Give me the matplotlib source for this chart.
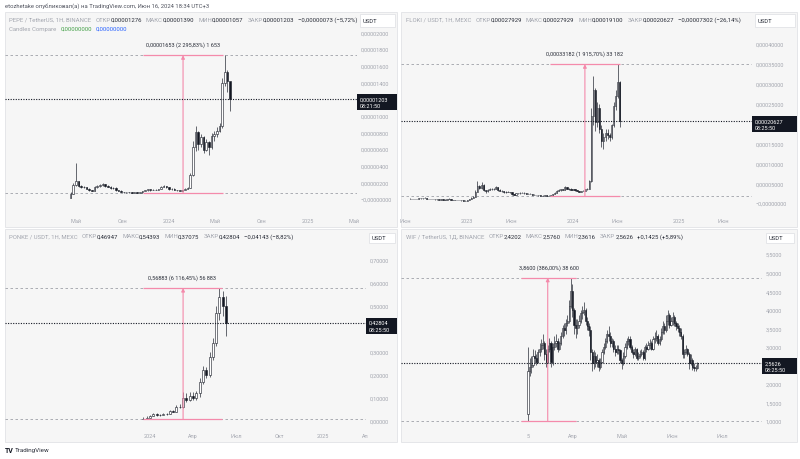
import matplotlib
matplotlib.use('Agg')
import matplotlib.pyplot as plt
import matplotlib.dates as mdates
from matplotlib.patches import Rectangle
import numpy as np
import pandas as pd

plt.rcParams['font.family'] = ['Roboto', 'DejaVu Sans']

W, H = 800, 460

# ---------------- DATA ----------------
# PEPE weekly, values in millionths of USDT
pepe_start = '2023-04-17'
pepe_open0 = 0.10
pepe_close = [0.60, 1.70, 2.10, 1.55, 1.45, 1.40, 1.25, 1.08, 1.00, 1.40, 1.50, 1.65, 1.80, 1.55, 1.45, 1.30,
              1.35, 1.05, 1.00, 0.85, 0.82, 0.78, 0.79, 0.76, 0.78, 0.75, 0.80, 0.95, 1.05, 1.15, 1.05, 1.12,
              1.10, 1.20, 1.45, 1.55, 1.38, 1.20, 1.25, 1.10, 1.02, 1.00, 1.05, 1.25, 1.35, 2.90, 6.20, 8.00,
              6.60, 7.40, 5.90, 6.80, 6.20, 7.60, 7.80, 8.20, 8.70, 13.90, 15.20, 14.10, 12.03]
pepe_high = [0.80, 1.90, 4.30, 2.20, 1.65, 1.55, 1.45, 1.30, 1.12, 1.50, 1.62, 1.75, 1.95, 1.85, 1.62, 1.50,
             1.42, 1.38, 1.10, 1.02, 0.88, 0.85, 0.83, 0.82, 0.82, 0.80, 0.84, 0.99, 1.10, 1.25, 1.20, 1.18,
             1.16, 1.25, 1.55, 1.72, 1.60, 1.42, 1.35, 1.28, 1.12, 1.05, 1.08, 1.30, 1.42, 3.10, 7.00, 8.80,
             8.10, 7.80, 7.50, 7.20, 6.90, 7.90, 8.20, 8.60, 9.10, 14.50, 17.25, 15.50, 13.90]
pepe_low = [0.08, 0.55, 1.60, 1.40, 1.35, 1.30, 1.15, 0.95, 0.90, 0.98, 1.35, 1.45, 1.60, 1.45, 1.38, 1.25,
            1.22, 1.00, 0.92, 0.80, 0.76, 0.73, 0.74, 0.72, 0.73, 0.72, 0.73, 0.74, 0.92, 1.00, 1.00, 1.02,
            1.05, 1.08, 1.18, 1.40, 1.30, 1.12, 1.12, 1.05, 0.95, 0.93, 0.95, 1.02, 1.20, 1.30, 2.80, 5.80,
            5.90, 6.20, 5.50, 5.70, 5.30, 6.00, 7.00, 7.40, 8.00, 8.50, 13.50, 12.80, 10.57]

# FLOKI weekly, values in 1e-5 USDT
floki_start = '2022-06-20'
floki_open0 = 1.00
floki_close = [1.05, 0.98, 1.02, 1.00, 1.15, 1.25, 1.18, 1.30, 1.08, 1.02, 0.95, 1.00, 0.92, 0.90, 0.88, 0.90,
               0.85, 0.86, 1.05, 1.10, 0.75, 0.72, 0.70, 0.72, 0.70, 0.65, 0.62, 0.60,
               0.75, 1.05, 1.35, 1.60, 2.80, 4.20, 3.80, 4.60, 3.20, 2.90, 3.30, 3.40, 3.60, 3.50, 3.90, 3.20,
               3.10, 2.90, 2.70, 2.80, 2.75, 2.65, 2.20, 2.05, 2.45, 2.40, 2.60, 2.55, 2.40, 2.35, 2.25, 2.30,
               2.05, 2.00, 1.95, 1.90, 1.88, 1.85, 1.90, 1.85, 1.78, 1.90, 2.25, 2.50, 3.00, 3.20, 3.40, 3.30,
               3.90, 3.50, 3.60, 3.30,
               3.40, 3.20, 2.95, 2.85, 2.95, 3.10, 3.40, 3.60, 5.50, 22.00, 28.50, 20.50, 24.00, 18.50, 15.50,
               16.50, 17.50, 17.00, 16.50, 19.50, 24.50, 27.00, 30.50, 20.627]
floki_high = [1.15, 1.10, 1.10, 1.08, 1.22, 1.35, 1.32, 1.40, 1.35, 1.12, 1.05, 1.05, 1.02, 0.98, 0.95, 0.96,
              0.93, 0.92, 1.12, 1.20, 1.12, 0.80, 0.76, 0.78, 0.76, 0.72, 0.68, 0.66,
              0.78, 1.10, 1.45, 1.75, 3.20, 5.50, 4.60, 5.20, 4.70, 3.30, 3.50, 3.70, 3.80, 3.80, 4.20, 4.00,
              3.40, 3.20, 2.95, 3.00, 2.95, 2.85, 2.70, 2.25, 2.55, 2.60, 2.75, 2.70, 2.65, 2.50, 2.45, 2.45,
              2.35, 2.15, 2.08, 2.02, 1.98, 1.95, 1.98, 1.98, 1.92, 1.95, 2.35, 2.65, 3.15, 3.45, 3.60, 3.55,
              4.20, 4.10, 3.85, 3.70,
              3.55, 3.50, 3.25, 3.05, 3.05, 3.25, 3.55, 3.80, 5.80, 24.00, 32.00, 29.00, 25.50, 25.00, 19.50,
              17.50, 18.50, 18.50, 17.50, 20.00, 25.50, 28.50, 34.91, 30.80]
floki_low = [0.95, 0.92, 0.95, 0.95, 0.98, 1.12, 1.12, 1.15, 1.05, 0.98, 0.92, 0.92, 0.88, 0.86, 0.85, 0.86,
             0.82, 0.83, 0.85, 1.02, 0.68, 0.68, 0.66, 0.68, 0.66, 0.62, 0.58, 0.57,
             0.58, 0.73, 1.00, 1.30, 1.55, 2.70, 3.40, 3.60, 3.10, 2.60, 2.80, 3.20, 3.30, 3.35, 3.40, 3.10,
             2.95, 2.80, 2.60, 2.60, 2.65, 2.55, 2.10, 1.95, 2.00, 2.30, 2.35, 2.45, 2.35, 2.30, 2.20, 2.20,
             2.00, 1.95, 1.90, 1.85, 1.82, 1.80, 1.80, 1.78, 1.74, 1.73, 1.85, 2.20, 2.45, 2.95, 3.10, 3.15,
             3.25, 3.40, 3.35, 3.20,
             3.20, 3.10, 2.90, 2.75, 2.80, 2.90, 3.05, 3.35, 3.50, 5.40, 19.50, 18.00, 19.00, 17.50, 14.00,
             13.50, 15.50, 16.00, 15.50, 16.00, 19.00, 23.50, 26.50, 19.10]

# PONKE weekly, USDT
ponke_start = '2023-12-18'
ponke_open0 = 0.0093
ponke_close = [0.010, 0.015, 0.022, 0.030, 0.025, 0.028, 0.032, 0.030, 0.045, 0.040, 0.060, 0.062, 0.100,
               0.090, 0.110, 0.100, 0.120, 0.170, 0.220, 0.200, 0.280, 0.340, 0.470, 0.540, 0.500, 0.42804]
ponke_high = [0.016, 0.020, 0.028, 0.036, 0.033, 0.032, 0.036, 0.036, 0.050, 0.050, 0.068, 0.075, 0.125,
              0.120, 0.125, 0.125, 0.130, 0.185, 0.240, 0.235, 0.300, 0.360, 0.500, 0.578, 0.565, 0.545]
ponke_low = [0.0093, 0.010, 0.014, 0.021, 0.022, 0.023, 0.026, 0.027, 0.029, 0.037, 0.038, 0.055, 0.058,
             0.082, 0.085, 0.092, 0.090, 0.105, 0.160, 0.185, 0.190, 0.265, 0.325, 0.440, 0.455, 0.371]

# WIF daily, USDT
wif_start = '2024-03-05'
wif_open0 = 1.20
wif_close = [2.35, 2.45, 2.50, 2.75, 2.70, 2.60, 2.85, 2.95, 3.05, 3.10, 2.80, 2.60, 2.95, 3.10, 2.60, 3.00,
             3.10, 3.15, 2.95, 3.10, 3.30, 3.50, 3.45, 3.65, 3.70, 4.10, 4.50,
             4.00, 3.60, 3.50, 3.60, 3.70, 3.90, 3.95, 4.00, 3.70, 3.55, 3.45, 2.85, 2.55, 2.75, 2.60, 2.65,
             2.45, 2.60, 2.85, 3.00, 3.15, 3.35, 3.30, 3.10, 3.15, 2.95, 2.85, 2.95, 2.90, 2.65,
             2.55, 2.75, 3.00, 3.15, 3.20, 3.00, 2.85, 2.80, 2.95, 2.70, 2.75, 2.80, 2.85, 2.70, 3.00, 2.95,
             3.05, 3.10, 2.95, 3.20, 3.25, 3.30, 3.10, 3.20, 3.40, 3.55, 3.45, 3.70, 3.85, 3.60, 3.70,
             3.80, 3.65, 3.55, 3.50, 3.40, 3.30, 2.80, 2.85, 2.95, 2.80, 2.55, 2.65, 2.45, 2.42, 2.42, 2.5626]
wif_high = [3.00, 2.70, 2.75, 2.95, 2.90, 2.80, 2.95, 3.10, 3.20, 3.35, 3.15, 2.95, 3.05, 3.25, 3.15, 3.10,
            3.30, 3.35, 3.25, 3.15, 3.40, 3.60, 3.65, 3.75, 3.85, 4.25, 4.86,
            4.70, 4.05, 3.75, 3.75, 3.85, 4.00, 4.10, 4.20, 4.05, 3.80, 3.65, 3.55, 2.95, 2.90, 2.85, 2.80,
            2.70, 2.70, 2.95, 3.10, 3.25, 3.45, 3.55, 3.40, 3.25, 3.20, 3.05, 3.05, 3.05, 2.95,
            2.70, 2.85, 3.10, 3.25, 3.30, 3.30, 3.05, 2.95, 3.00, 2.98, 2.85, 2.90, 2.95, 2.90, 3.05, 3.10,
            3.15, 3.20, 3.15, 3.30, 3.40, 3.45, 3.35, 3.30, 3.50, 3.70, 3.65, 3.85, 4.00, 3.90, 3.80,
            3.95, 3.85, 3.70, 3.65, 3.60, 3.50, 3.35, 2.95, 3.05, 2.98, 2.85, 2.80, 2.70, 2.55, 2.50, 2.58]
wif_low = [1.00, 2.20, 2.30, 2.45, 2.55, 2.50, 2.55, 2.75, 2.85, 2.95, 2.65, 2.45, 2.55, 2.85, 2.45, 2.50,
           2.90, 3.00, 2.85, 2.90, 3.05, 3.25, 3.30, 3.35, 3.55, 3.65, 4.05,
           3.80, 3.35, 3.25, 3.35, 3.50, 3.65, 3.75, 3.85, 3.60, 3.45, 3.30, 2.65, 2.35, 2.40, 2.45, 2.45,
           2.35, 2.40, 2.55, 2.80, 2.95, 3.10, 3.15, 3.00, 3.00, 2.85, 2.75, 2.80, 2.80, 2.55,
           2.40, 2.50, 2.70, 2.95, 3.05, 2.95, 2.80, 2.70, 2.75, 2.65, 2.65, 2.70, 2.75, 2.65, 2.65, 2.85,
           2.90, 2.95, 2.90, 2.90, 3.10, 3.15, 3.05, 3.05, 3.15, 3.35, 3.35, 3.40, 3.60, 3.50, 3.55,
           3.60, 3.55, 3.45, 3.40, 3.30, 3.20, 2.70, 2.70, 2.80, 2.75, 2.40, 2.50, 2.38, 2.36, 2.36, 2.40]

# tick labels
p1_yticks = [2.0e-5, 1.8e-5, 1.6e-5, 1.4e-5, 1.0e-5, 0.8e-5, 0.6e-5, 0.4e-5, 0.2e-5, 0.0]
p1_ylabels = ['0,00002000', '0,00001800', '0,00001600', '0,00001400', '0,00001000', '0,00000800',
              '0,00000600', '0,00000400', '0,00000200', '−0,00000000']
p2_yticks = [4e-4, 3.5e-4, 3e-4, 2.5e-4, 1.5e-4, 1e-4, 0.5e-4, 0.0]
p2_ylabels = ['0,00040000', '0,00035000', '0,00030000', '0,00025000', '0,00015000', '0,00010000',
              '0,00005000', '−0,00000000']
p3_yticks = [0.7, 0.6, 0.5, 0.3, 0.2, 0.1, 0.0]
p3_ylabels = ['0,70000', '0,60000', '0,50000', '0,30000', '0,20000', '0,10000', '0,00000']
p4_yticks = [5.5, 5.0, 4.5, 4.0, 3.5, 3.0, 2.0, 1.5, 1.0]
p4_ylabels = ['5,5000', '5,0000', '4,5000', '4,0000', '3,5000', '3,0000', '2,0000', '1,5000', '1,0000']

p1_xticks = ['2023-05-01', '2023-09-01', '2024-01-01', '2024-05-01', '2024-09-01', '2025-01-01', '2025-05-01']
p1_xlabels = ['Май', 'Сен', '2024', 'Май', 'Сен', '2025', 'Май']
p2_xticks = ['2022-06-01', '2023-01-01', '2023-06-01', '2024-01-01', '2024-06-01', '2025-01-01', '2025-06-01']
p2_xlabels = ['Июн', '2023', 'Июн', '2024', 'Июн', '2025', 'Июн']
p3_xticks = ['2024-01-01', '2024-04-01', '2024-07-01', '2024-10-01', '2025-01-01', '2025-04-01']
p3_xlabels = ['2024', 'Апр', 'Июл', 'Окт', '2025', 'Ап']
p4_xticks = ['2024-03-05', '2024-04-01', '2024-05-01', '2024-06-01', '2024-07-01']
p4_xlabels = ['5', 'Апр', 'Май', 'Июн', 'Июл']

# ---------------- STYLE ----------------
GRAY = '#a3a6af'
DARK = '#2a2e39'
PINK = '#f48aab'
PANEL_BG = '#f6f6f6'
BORDER = '#e2e3e6'

fig = plt.figure(figsize=(W / 100, H / 100), dpi=100)
fig.patch.set_facecolor('white')
renderer = fig.canvas.get_renderer()


def fx(x):
    return x / W


def fy(y):
    return 1 - y / H


def seg_text(x, y, segs, size=4.3):
    for gap, txt, col in segs:
        x += gap
        t = fig.text(fx(x), fy(y), txt, color=col, fontsize=size, ha='left', va='center')
        bb = t.get_window_extent(renderer)
        x = bb.x1


def lims(a0, p0, a1, p1, q0, q1):
    s = (p1 - p0) / (a1 - a0)
    return a0 + (q0 - p0) / s, a0 + (q1 - p0) / s


def candles(ax, start, freq, o0, close, high, low, width):
    n = len(close)
    x = mdates.date2num(pd.date_range(start, periods=n, freq=freq))
    c = np.array(close, dtype=float)
    o = np.concatenate([[o0], c[:-1]])
    ax.vlines(x, low, high, color='#131722', lw=0.45, zorder=3)
    up = c >= o
    bot = np.minimum(o, c)
    hgt = np.abs(c - o)
    ax.bar(x[up], hgt[up], width, bot[up], color='white', edgecolor='#131722', lw=0.4, zorder=4)
    ax.bar(x[~up], hgt[~up], width, bot[~up], color='#131722', edgecolor='#131722', lw=0.4, zorder=4)


def panel(px0, px1, py0, py1, axis_x, xanch, yanch, yticks, ylabels, xticks, xlabels):
    fig.patches.append(Rectangle((fx(px0), fy(py1)), (px1 - px0) / W, (py1 - py0) / H,
                                 transform=fig.transFigure, facecolor=PANEL_BG, edgecolor=BORDER,
                                 lw=0.6, zorder=-2))
    ax = fig.add_axes([fx(px0), fy(py1 - 15), (axis_x - px0) / W, (py1 - 15 - py0) / H])
    ax.set_facecolor('none')
    for s in ax.spines.values():
        s.set_visible(False)
    d0 = mdates.datestr2num(xanch[0][0]); d1 = mdates.datestr2num(xanch[1][0])
    ax.set_xlim(*lims(d0, xanch[0][1], d1, xanch[1][1], px0, axis_x))
    ylo, yhi = lims(yanch[0][0], yanch[0][1], yanch[1][0], yanch[1][1], py1 - 15, py0)
    ax.set_ylim(ylo, yhi)
    ax.yaxis.tick_right()
    ax.set_yticks(yticks)
    ax.set_yticklabels(ylabels)
    ax.set_xticks([mdates.datestr2num(d) for d in xticks])
    ax.set_xticklabels(xlabels)
    ax.tick_params(axis='y', length=0, pad=2.8, labelsize=4, labelcolor=GRAY)
    ax.tick_params(axis='x', length=0, pad=4.3, labelsize=4, labelcolor=GRAY)
    return ax


def measure(ax, d0, d1, darrow, lo, hi, label):
    x0 = mdates.datestr2num(d0); x1 = mdates.datestr2num(d1); xa = mdates.datestr2num(darrow)
    xl = ax.get_xlim()
    ax.hlines([hi, lo], xl[0], xl[1], colors='#9ea1a8', lw=0.6, linestyles=(0, (3, 3)), zorder=2)
    ax.hlines([hi, lo], x0, x1, colors=PINK, lw=0.9, zorder=5)
    ax.annotate('', xy=(xa, hi), xytext=(xa, lo),
                arrowprops=dict(arrowstyle='-|>', color=PINK, lw=0.8, mutation_scale=5,
                                shrinkA=0, shrinkB=0), zorder=5)
    ax.annotate(label, xy=((x0 + x1) / 2, hi), xytext=(0, 8), textcoords='offset points',
                ha='center', va='center', fontsize=4, color=DARK, zorder=6)


def last_price(ax, price, axis_x, right, txt, cd):
    xl = ax.get_xlim()
    ax.hlines(price, xl[0], xl[1], colors='#131722', lw=0.8, linestyles=(0, (1, 1.3)), zorder=6)
    ypix = ax.transData.transform((xl[0], price))[1]
    ytop = H - ypix
    fig.patches.append(Rectangle((fx(axis_x), fy(ytop + 11)), (right - axis_x) / W, 16 / H,
                                 transform=fig.transFigure, facecolor='#131722', edgecolor='none',
                                 zorder=5))
    fig.text(fx(axis_x + 3), fy(ytop), txt, color='white', fontsize=4, ha='left', va='center', zorder=6)
    fig.text(fx(axis_x + 3), fy(ytop + 6.5), cd, color='white', fontsize=4, ha='left', va='center', zorder=6)


def usdt_box(x0, x1, y0, y1):
    fig.patches.append(Rectangle((fx(x0), fy(y1)), (x1 - x0) / W, (y1 - y0) / H,
                                 transform=fig.transFigure, facecolor='white', edgecolor=BORDER,
                                 lw=0.6, zorder=3))
    fig.text(fx(x0 + 3), fy((y0 + y1) / 2), 'USDT', color=DARK, fontsize=4.2, ha='left', va='center',
             zorder=4)


# ---------------- PANEL 1: PEPE ----------------
ax1 = panel(5, 397, 13, 228, 357, [('2024-01-01', 169), ('2025-01-01', 308)],
            [(0.0, 200), (2e-5, 33.3)], p1_yticks, p1_ylabels, p1_xticks, p1_xlabels)
s = 1e-6
candles(ax1, pepe_start, '7D', pepe_open0 * s, np.array(pepe_close) * s,
        np.array(pepe_high) * s, np.array(pepe_low) * s, 4.2)
measure(ax1, '2023-10-24', '2024-05-22', '2024-02-07', 0.72e-6, 17.25e-6,
        '0,00001653 (2 295,83%) 1 653')
last_price(ax1, 12.03e-6, 357, 397, '0,00001203', '08:21:50')
usdt_box(360, 395, 15, 28)

# ---------------- PANEL 2: FLOKI ----------------
ax2 = panel(401, 797, 13, 228, 752, [('2023-01-01', 467), ('2024-01-01', 573)],
            [(0.0, 204), (4e-4, 45)], p2_yticks, p2_ylabels, p2_xticks, p2_xlabels)
s = 1e-5
candles(ax2, floki_start, '7D', floki_open0 * s, np.array(floki_close) * s,
        np.array(floki_high) * s, np.array(floki_low) * s, 4.2)
measure(ax2, '2023-10-14', '2024-06-11', '2024-02-11', 1.732e-5, 34.914e-5,
        '0,00033182 (1 915,70%) 33 182')
last_price(ax2, 20.627e-5, 752, 797, '0,00020627', '08:25:50')
usdt_box(755, 795, 15, 28)

# ---------------- PANEL 3: PONKE ----------------
ax3 = panel(5, 397, 230, 443, 366, [('2024-01-01', 150), ('2025-01-01', 323)],
            [(0.0, 422), (0.7, 261)], p3_yticks, p3_ylabels, p3_xticks, p3_xlabels)
candles(ax3, ponke_start, '7D', ponke_open0, ponke_close, ponke_high, ponke_low, 4.2)
measure(ax3, '2023-12-17', '2024-06-01', '2024-03-11', 0.0093, 0.57813,
        '0,56883 (6 116,45%) 56 883')
last_price(ax3, 0.42804, 366, 397, '0,42804', '08:25:50')
usdt_box(369, 395, 234, 244)

# ---------------- PANEL 4: WIF ----------------
ax4 = panel(401, 797, 230, 443, 762, [('2024-03-05', 528), ('2024-07-01', 722)],
            [(1.0, 422), (5.5, 255)], p4_yticks, p4_ylabels, p4_xticks, p4_xlabels)
candles(ax4, wif_start, '1D', wif_open0, wif_close, wif_high, wif_low, 0.7)
measure(ax4, '2024-03-01', '2024-04-03', '2024-03-17', 1.0, 4.86,
        '3,8600 (386,00%) 38 600')
last_price(ax4, 2.5626, 762, 797, '2,5626', '08:25:50')
usdt_box(766, 794, 234, 244)

# ---------------- HEADERS ----------------
fig.text(fx(5), fy(6), 'etozhetake опубликовал(а) на TradingView.com, Июн 16, 2024 18:34 UTC+3',
         color='#50535e', fontsize=4.2, ha='left', va='center')

seg_text(9, 20, [(0, 'PEPE / TetherUS, 1H, BINANCE', GRAY), (4, 'ОТКР', GRAY), (0, '0,00001276', DARK),
                 (4, 'МАКС', GRAY), (0, '0,00001390', DARK), (4, 'МИН', GRAY), (0, '0,00001057', DARK),
                 (4, 'ЗАКР', GRAY), (0, '0,00001203', DARK), (4, '−0,00000073 (−5,72%)', DARK)])
seg_text(9, 29, [(0, 'Candles Compare', GRAY), (4, '0,00000000', '#43a047'), (4, '0,00000000', '#2962ff')])
seg_text(406, 20, [(0, 'FLOKI / USDT, 1H, MEXC', GRAY), (4, 'ОТКР', GRAY), (0, '0,00027929', DARK),
                   (4, 'МАКС', GRAY), (0, '0,00027929', DARK), (4, 'МИН', GRAY), (0, '0,00019100', DARK),
                   (4, 'ЗАКР', GRAY), (0, '0,00020627', DARK), (4, '−0,00007302 (−26,14%)', DARK)])
seg_text(9, 237, [(0, 'PONKE / USDT, 1H, MEXC', GRAY), (4, 'ОТКР', GRAY), (0, '0,46947', DARK),
                  (4, 'МАКС', GRAY), (0, '0,54393', DARK), (4, 'МИН', GRAY), (0, '0,37075', DARK),
                  (4, 'ЗАКР', GRAY), (0, '0,42804', DARK), (4, '−0,04143 (−8,82%)', DARK)])
seg_text(406, 237, [(0, 'WIF / TetherUS, 1Д, BINANCE', GRAY), (4, 'ОТКР', GRAY), (0, '2,4202', DARK),
                    (4, 'МАКС', GRAY), (0, '2,5760', DARK), (4, 'МИН', GRAY), (0, '2,3616', DARK),
                    (4, 'ЗАКР', GRAY), (0, '2,5626', DARK), (4, '+0,1425 (+5,89%)', DARK)])

# footer logo
fig.text(fx(5), fy(451), 'TV', color='#131722', fontsize=5, fontweight='bold', ha='left', va='center')
fig.text(fx(15), fy(451), 'TradingView', color='#2a2e39', fontsize=4.5, ha='left', va='center')

fig.savefig('out.png', dpi=100, facecolor='white')
